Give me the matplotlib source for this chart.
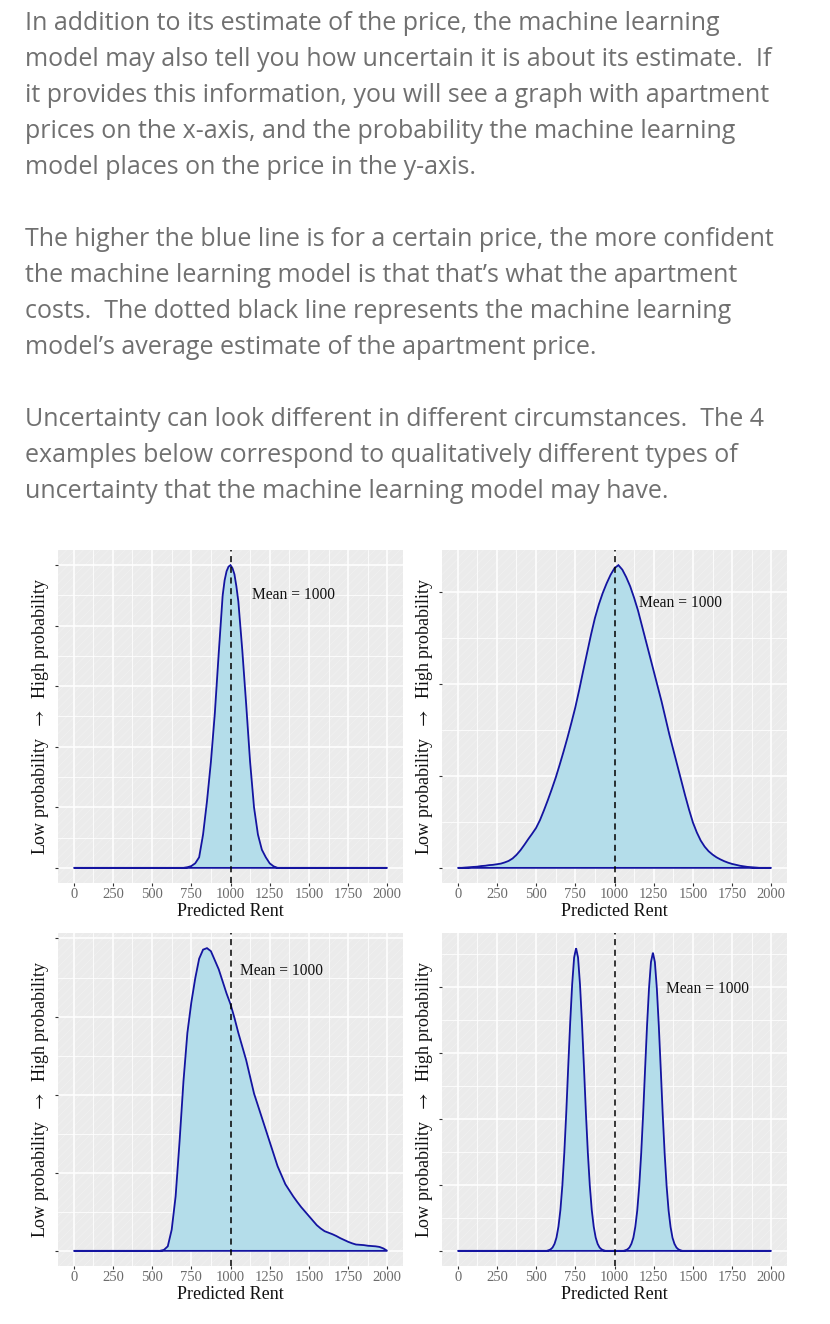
import matplotlib
matplotlib.use("Agg")
import matplotlib.pyplot as plt
from matplotlib.ticker import MultipleLocator
from matplotlib.patches import Rectangle

# intro text, one entry per rendered line ('' = blank line)
intro_lines = [
    "In addition to its estimate of the price, the machine learning",
    "model may also tell you how uncertain it is about its estimate.  If",
    "it provides this information, you will see a graph with apartment",
    "prices on the x-axis, and the probability the machine learning",
    "model places on the price in the y-axis.",
    "",
    "The higher the blue line is for a certain price, the more confident",
    "the machine learning model is that that\u2019s what the apartment",
    "costs.  The dotted black line represents the machine learning",
    "model\u2019s average estimate of the apartment price.",
    "",
    "Uncertainty can look different in different circumstances.  The 4",
    "examples below correspond to qualitatively different types of",
    "uncertainty that the machine learning model may have.",
]

# relative density (peak = 1)
x_narrow = [0, 700, 725, 750, 775, 800, 825, 850, 875, 900, 925, 950, 962.5, 975, 987.5,
            1000, 1012.5, 1025, 1037.5, 1050, 1075, 1100, 1125, 1150, 1175, 1200, 1225,
            1250, 1275, 1300, 2000]
y_narrow = [0, 0, 0.002, 0.006, 0.015, 0.035, 0.11, 0.22, 0.35, 0.51, 0.71, 0.9, 0.95,
            0.98, 0.995, 1.0, 0.99, 0.97, 0.93, 0.88, 0.72, 0.54, 0.35, 0.2, 0.11, 0.06,
            0.035, 0.015, 0.005, 0, 0]

x_wide = [0, 25, 50, 75, 100, 125, 150, 175, 200, 225, 250, 275, 300, 325, 350, 375, 400,
          425, 450, 475, 500, 525, 550, 575, 600, 625, 650, 675, 700, 725, 750, 775, 800,
          825, 850, 875, 900, 925, 950, 975, 1000, 1025, 1050, 1075, 1100, 1125, 1150,
          1175, 1200, 1225, 1250, 1275, 1300, 1325, 1350, 1375, 1400, 1425, 1450, 1475,
          1500, 1525, 1550, 1575, 1600, 1625, 1650, 1675, 1700, 1725, 1750, 1775, 1800,
          1825, 1850, 1875, 1900, 1925, 2000]
y_wide = [0, 0, 0.001, 0.002, 0.003, 0.004, 0.006, 0.007, 0.009, 0.010, 0.012, 0.014,
          0.018, 0.023, 0.031, 0.043, 0.058, 0.076, 0.095, 0.113, 0.132, 0.158, 0.19,
          0.224, 0.26, 0.298, 0.34, 0.384, 0.43, 0.479, 0.53, 0.588, 0.65, 0.71, 0.77,
          0.825, 0.87, 0.908, 0.94, 0.968, 0.99, 1.0, 0.985, 0.96, 0.93, 0.892, 0.85,
          0.80, 0.75, 0.70, 0.65, 0.60, 0.55, 0.495, 0.44, 0.39, 0.34, 0.29, 0.24, 0.193,
          0.15, 0.117, 0.09, 0.07, 0.055, 0.044, 0.035, 0.028, 0.022, 0.017, 0.013, 0.01,
          0.007, 0.005, 0.003, 0.002, 0.001, 0, 0]

x_skew = [0, 550, 575, 600, 625, 650, 675, 700, 725, 750, 775, 800, 825, 850, 875, 900,
          925, 950, 975, 1000, 1025, 1050, 1075, 1100, 1125, 1150, 1175, 1200, 1225, 1250,
          1275, 1300, 1325, 1350, 1375, 1400, 1425, 1450, 1475, 1500, 1525, 1550, 1575,
          1600, 1625, 1650, 1675, 1700, 1725, 1750, 1775, 1800, 1825, 1850, 1875, 1900,
          1925, 1950, 1975, 2000]
y_skew = [0, 0, 0.003, 0.015, 0.07, 0.18, 0.36, 0.56, 0.72, 0.82, 0.9, 0.965, 0.995, 1.0,
          0.99, 0.96, 0.93, 0.89, 0.85, 0.815, 0.77, 0.72, 0.675, 0.63, 0.575, 0.52, 0.48,
          0.44, 0.40, 0.36, 0.32, 0.28, 0.25, 0.22, 0.2, 0.18, 0.162, 0.145, 0.13, 0.115,
          0.1, 0.085, 0.074, 0.065, 0.06, 0.055, 0.049, 0.042, 0.036, 0.03, 0.025, 0.021,
          0.02, 0.019, 0.017, 0.016, 0.015, 0.013, 0.008, 0]

x_bimodal = [0, 567.5, 580, 592.5, 605, 617.5, 630, 642.5, 655, 667.5, 680, 692.5, 705,
             717.5, 730, 742.5, 755, 767.5, 780, 792.5, 805, 817.5, 830, 842.5, 855, 867.5,
             880, 892.5, 905, 917.5, 930, 942.5,
             1057.5, 1070, 1082.5, 1095, 1107.5, 1120, 1132.5, 1145, 1157.5, 1170, 1182.5,
             1195, 1207.5, 1220, 1232.5, 1245, 1257.5, 1270, 1282.5, 1295, 1307.5, 1320,
             1332.5, 1345, 1357.5, 1370, 1382.5, 1395, 1407.5, 1420, 1432.5, 2000]
y_bimodal = [0, 0, 0.002, 0.005, 0.011, 0.023, 0.044, 0.08, 0.135, 0.216, 0.325, 0.458,
             0.61, 0.755, 0.88, 0.969, 1.0, 0.969, 0.88, 0.755, 0.61, 0.458, 0.325, 0.216,
             0.135, 0.08, 0.044, 0.023, 0.011, 0.005, 0.002, 0,
             0, 0.002, 0.005, 0.011, 0.023, 0.043, 0.079, 0.133, 0.213, 0.32, 0.451, 0.6,
             0.744, 0.867, 0.954, 0.985, 0.954, 0.867, 0.744, 0.6, 0.451, 0.32, 0.213,
             0.133, 0.079, 0.043, 0.023, 0.011, 0.005, 0.002, 0, 0]

mean_price = 1000
x_ticks = [0, 250, 500, 750, 1000, 1250, 1500, 1750, 2000]

# (x, y, y grid step, label x, label y)
panels = [
    (x_narrow, y_narrow, 0.2, 1137, 0.888),
    (x_wide, y_wide, 0.304, 1157, 0.861),
    (x_skew, y_skew, 0.258, 1061, 0.911),
    (x_bimodal, y_bimodal, 0.218, 1329, 0.851),
]

plt.rcParams["mathtext.fontset"] = "stix"
plt.rcParams["hatch.linewidth"] = 0.6

W, H = 830, 1324
fig = plt.figure(figsize=(W / 100, H / 100), dpi=100)

# ---- intro paragraphs ----
txt_color = "#707070"
txt_font = ["Open Sans", "DejaVu Sans"]
probe = fig.text(0, 0, intro_lines[0], fontsize=15, family=txt_font)
r = fig.canvas.get_renderer()
w15 = probe.get_window_extent(r).width
probe.remove()
txt_size = 15 * 697 / w15
for k, line in enumerate(intro_lines):
    if line:
        fig.text(25 / W, 1 - (30 + 36 * k) / H, line, fontsize=txt_size,
                 family=txt_font, color=txt_color, va="baseline", ha="left")

# ---- density panels ----
serif = ["Liberation Serif", "DejaVu Serif"]
boxes = [(58, 550), (442, 550), (58, 933), (442, 933)]
pw, ph = 345, 333

for (px, py), (xs, ys, ystep, lx, ly) in zip(boxes, panels):
    ax = fig.add_axes([px / W, 1 - (py + ph) / H, pw / W, ph / H])
    ax.set_xlim(-100, 2100)
    ax.set_ylim(-0.05, 1.05)
    ax.set_facecolor("#EBEBEB")
    ax.add_patch(Rectangle((0, 0), 1, 1, transform=ax.transAxes, facecolor="none",
                           edgecolor="#F0F0F0", hatch="////", lw=0, zorder=0))
    for s in ax.spines.values():
        s.set_visible(False)

    ax.xaxis.set_major_locator(MultipleLocator(250))
    ax.xaxis.set_minor_locator(MultipleLocator(125))
    ax.yaxis.set_major_locator(MultipleLocator(ystep))
    ax.yaxis.set_minor_locator(MultipleLocator(ystep / 2))
    ax.grid(which="major", color="white", lw=1.1)
    ax.grid(which="minor", color="white", lw=0.55)
    ax.set_axisbelow(True)

    ax.set_xticks(x_ticks)
    ax.set_xticklabels([str(t) for t in x_ticks])
    ax.set_yticklabels([])
    ax.tick_params(which="major", length=2.5, width=0.8, color="#333333", pad=1,
                   labelsize=10.5, labelcolor="#6B6B6B")
    ax.tick_params(which="minor", length=0)
    for lab in ax.get_xticklabels():
        lab.set_family(serif)

    ax.fill(xs, ys, facecolor="#B4DDEA", edgecolor="#1414A0", lw=1.3, zorder=2)
    ax.axvline(mean_price, color="black", lw=1.1, dashes=(4, 3), zorder=3)
    ax.text(lx, ly, "Mean = 1000", family=serif, fontsize=11.2, color="#111111",
            ha="left", va="baseline", zorder=4)

    ax.text(0.5, -0.099, "Predicted Rent", transform=ax.transAxes, family=serif,
            fontsize=13, color="#111111", ha="center", va="baseline")
    ax.text(-0.052, 0.5, "Low probability  $\\rightarrow$  High probability",
            transform=ax.transAxes, family=serif, fontsize=13, color="#111111",
            rotation=90, ha="center", va="center")

fig.savefig("out.png", dpi=100)
